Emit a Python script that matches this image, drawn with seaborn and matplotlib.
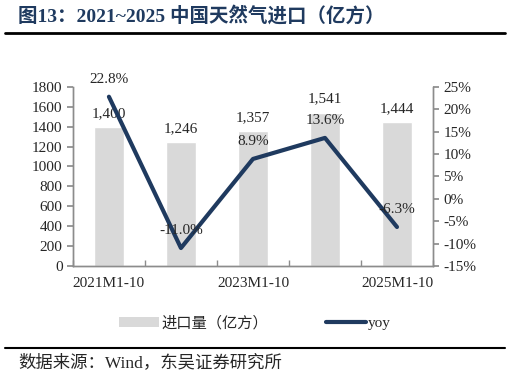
import numpy as np
import pandas as pd
import seaborn as sns
import matplotlib.pyplot as plt
from matplotlib.lines import Line2D
from matplotlib.patches import Patch

# data
periods = ["2021M1-10", "2022M1-10", "2023M1-10", "2024M1-10", "2025M1-10"]
imports = [1400, 1246, 1357, 1541, 1444]   # 亿方
yoy = [22.8, -11.0, 8.9, 13.6, -6.3]       # %

bar_color = "#d9d9d9"
line_color = "#1f3a5f"
spine_color = "#8c8c8c"

sns.set_theme(style="white")
plt.rcParams["font.family"] = ["Liberation Serif", "Noto Sans CJK SC"]

df = pd.DataFrame({"period": periods, "imports": imports, "yoy": yoy})
df["idx"] = np.arange(len(df))

fig = plt.figure(figsize=(5.1, 3.81), dpi=100)
ax = fig.add_axes([0.143, 0.302, 0.706, 0.470])

sns.barplot(data=df, x="period", y="imports", color=bar_color, width=0.42,
            saturation=1, ax=ax)
ax.set_ylim(0, 1800)
ax.set_yticks(np.arange(0, 1801, 200))
ax.set_xlabel("")
ax.set_ylabel("")
ax.set_xlim(-0.5, len(df) - 0.5)

# x labels only every other category, ticks at category borders
ax.set_xticks(df["idx"])
ax.set_xticklabels([p if i % 2 == 0 else "" for i, p in enumerate(periods)])
ax.set_xticks(np.arange(-0.5, len(df), 1.0), minor=True)
ax.tick_params(axis="x", which="major", length=0, pad=8, labelsize=11)
ax.tick_params(axis="x", which="minor", direction="in", length=4,
               color=spine_color, bottom=True)
ax.tick_params(axis="y", length=4, color=spine_color, left=True, labelsize=11)

for i, v in enumerate(imports):
    ax.text(i, v + 70, f"{v:,}", ha="center", va="bottom", fontsize=11)

ax2 = ax.twinx()
sns.lineplot(data=df, x="idx", y="yoy", color=line_color, linewidth=3,
             ax=ax2)
ax2.set_ylim(-15, 25)
ax2.set_yticks(np.arange(-15, 26, 5))
ax2.set_yticklabels([f"{t}%" for t in range(-15, 26, 5)])
ax2.set_ylabel("")
ax2.set_xlabel("")
ax2.set_xlim(-0.5, len(df) - 0.5)
ax2.tick_params(axis="y", length=4, color=spine_color, right=True, labelsize=11)

for i, v in enumerate(yoy):
    ax2.text(i, v + 2.4, f"{v:.1f}%", ha="center", va="bottom", fontsize=11)

for a in (ax, ax2):
    for side in ("left", "right", "bottom"):
        a.spines[side].set_color(spine_color)
        a.spines[side].set_linewidth(1)
    a.spines["top"].set_visible(False)

handles = [Patch(facecolor=bar_color, edgecolor="none", label="进口量（亿方）"),
           Line2D([0], [0], color=line_color, linewidth=3, label="yoy")]
fig.legend(handles=handles, loc="center", bbox_to_anchor=(0.5, 0.152), ncol=2,
           frameon=False, fontsize=11, handlelength=2.6, handletextpad=0.15,
           columnspacing=3.8)

fig.text(0.035, 0.958, "图13：2021~2025 中国天然气进口（亿方）", fontsize=14,
         fontweight="bold", color="#1f3a5f", va="center", ha="left")
fig.add_artist(Line2D([0.01, 0.99], [0.913, 0.913], color="black", linewidth=2))
fig.add_artist(Line2D([0.01, 0.99], [0.087, 0.087], color="black", linewidth=1.5))
fig.text(0.035, 0.048, "数据来源：Wind，东吴证券研究所", fontsize=12.5,
         va="center", ha="left")

fig.savefig("out.png", dpi=100)
